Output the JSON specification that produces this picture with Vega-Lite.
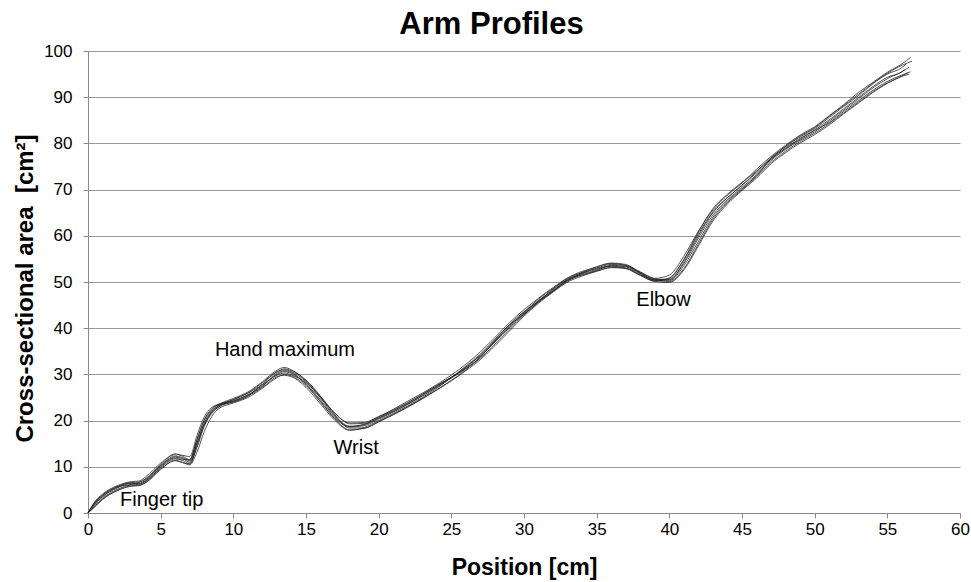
{
"$schema": "https://vega.github.io/schema/vega-lite/v6.json",
"width": 872, "height": 462,
"autosize": "none",
"padding": {"left": 88, "top": 51, "right": 11, "bottom": 69},
"background": "white",
"config": {"font": "Liberation Sans", "view": {"stroke": null}},
"title": {"text": "Arm Profiles", "fontSize": 31, "fontWeight": "bold", "font": "Liberation Sans", "color": "#000", "frame": "bounds", "anchor": "middle", "offset": 1},
"layer": [
{
"data": {"values": [
{"c":"A","x":0,"y":0},{"c":"A","x":0.5,"y":2.0},{"c":"A","x":1,"y":3.5},{"c":"A","x":2,"y":5.4},{"c":"A","x":3,"y":6.4},{"c":"A","x":3.5,"y":6.4},{"c":"A","x":4,"y":7.2},{"c":"A","x":5,"y":10.2},{"c":"A","x":6,"y":12.1},{"c":"A","x":6.5,"y":11.8},{"c":"A","x":7,"y":11.0},{"c":"A","x":7.5,"y":15.0},{"c":"A","x":8,"y":19.5},{"c":"A","x":8.5,"y":22.0},{"c":"A","x":9,"y":23.2},{"c":"A","x":10,"y":24.3},{"c":"A","x":11,"y":25.6},{"c":"A","x":12,"y":27.6},{"c":"A","x":13,"y":30.0},{"c":"A","x":13.5,"y":30.6},{"c":"A","x":14,"y":30.2},{"c":"A","x":15,"y":28.0},{"c":"A","x":16,"y":24.5},{"c":"A","x":17,"y":20.8},{"c":"A","x":18,"y":18.6},{"c":"A","x":19,"y":18.9},{"c":"A","x":20,"y":20.3},{"c":"A","x":22,"y":23.5},{"c":"A","x":24,"y":27.2},{"c":"A","x":26,"y":31.5},{"c":"A","x":27,"y":34.0},{"c":"A","x":28,"y":37.0},{"c":"A","x":29,"y":40.3},{"c":"A","x":30,"y":43.3},{"c":"A","x":31,"y":46.0},{"c":"A","x":32,"y":48.3},{"c":"A","x":33,"y":50.5},{"c":"A","x":34,"y":51.8},{"c":"A","x":35,"y":52.7},{"c":"A","x":36,"y":53.5},{"c":"A","x":37,"y":53.3},{"c":"A","x":38,"y":51.8},{"c":"A","x":39,"y":50.5},{"c":"A","x":40,"y":50.5},{"c":"A","x":41,"y":54.0},{"c":"A","x":42,"y":59.5},{"c":"A","x":43,"y":64.5},{"c":"A","x":44,"y":67.8},{"c":"A","x":45,"y":70.5},{"c":"A","x":46,"y":73.2},{"c":"A","x":47,"y":76.3},{"c":"A","x":48,"y":78.7},{"c":"A","x":49,"y":80.7},{"c":"A","x":50,"y":82.5},{"c":"A","x":51,"y":84.8},{"c":"A","x":52,"y":87.2},{"c":"A","x":53,"y":89.6},{"c":"A","x":54,"y":92.0},{"c":"A","x":55,"y":94.0},{"c":"A","x":56,"y":95.5},{"c":"A","x":56.5,"y":96.5},
{"c":"B","x":0,"y":0},{"c":"B","x":0.5,"y":2.6},{"c":"B","x":1,"y":4.1},{"c":"B","x":2,"y":5.9},{"c":"B","x":3,"y":6.8},{"c":"B","x":3.5,"y":6.9},{"c":"B","x":4,"y":7.9},{"c":"B","x":5,"y":10.8},{"c":"B","x":6,"y":12.6},{"c":"B","x":6.5,"y":12.5},{"c":"B","x":7,"y":12.2},{"c":"B","x":7.5,"y":16.8},{"c":"B","x":8,"y":20.8},{"c":"B","x":8.5,"y":22.8},{"c":"B","x":9,"y":23.6},{"c":"B","x":10,"y":24.8},{"c":"B","x":11,"y":26.2},{"c":"B","x":12,"y":28.4},{"c":"B","x":13,"y":30.9},{"c":"B","x":13.5,"y":31.5},{"c":"B","x":14,"y":31.0},{"c":"B","x":15,"y":28.6},{"c":"B","x":16,"y":25.2},{"c":"B","x":17,"y":21.6},{"c":"B","x":18,"y":19.3},{"c":"B","x":19,"y":19.4},{"c":"B","x":20,"y":20.8},{"c":"B","x":22,"y":24.2},{"c":"B","x":24,"y":27.8},{"c":"B","x":26,"y":32.2},{"c":"B","x":27,"y":34.9},{"c":"B","x":28,"y":38.0},{"c":"B","x":29,"y":41.2},{"c":"B","x":30,"y":44.0},{"c":"B","x":31,"y":46.5},{"c":"B","x":32,"y":48.8},{"c":"B","x":33,"y":50.9},{"c":"B","x":34,"y":52.3},{"c":"B","x":35,"y":53.2},{"c":"B","x":36,"y":54.0},{"c":"B","x":37,"y":53.6},{"c":"B","x":38,"y":52.1},{"c":"B","x":39,"y":50.8},{"c":"B","x":40,"y":51.5},{"c":"B","x":41,"y":55.6},{"c":"B","x":42,"y":61.0},{"c":"B","x":43,"y":65.6},{"c":"B","x":44,"y":68.8},{"c":"B","x":45,"y":71.4},{"c":"B","x":46,"y":74.4},{"c":"B","x":47,"y":77.2},{"c":"B","x":48,"y":79.6},{"c":"B","x":49,"y":81.8},{"c":"B","x":50,"y":83.6},{"c":"B","x":51,"y":86.0},{"c":"B","x":52,"y":88.4},{"c":"B","x":53,"y":91.0},{"c":"B","x":54,"y":93.2},{"c":"B","x":55,"y":95.4},{"c":"B","x":56,"y":97.2},{"c":"B","x":56.6,"y":98.6},
{"c":"C","x":0,"y":0},{"c":"C","x":0.5,"y":1.4},{"c":"C","x":1,"y":2.9},{"c":"C","x":2,"y":4.9},{"c":"C","x":3,"y":5.9},{"c":"C","x":3.5,"y":6.0},{"c":"C","x":4,"y":6.6},{"c":"C","x":5,"y":9.4},{"c":"C","x":6,"y":11.4},{"c":"C","x":6.5,"y":11.0},{"c":"C","x":7,"y":10.4},{"c":"C","x":7.5,"y":13.2},{"c":"C","x":8,"y":17.6},{"c":"C","x":8.5,"y":20.8},{"c":"C","x":9,"y":22.6},{"c":"C","x":10,"y":23.8},{"c":"C","x":11,"y":25.0},{"c":"C","x":12,"y":27.0},{"c":"C","x":13,"y":29.3},{"c":"C","x":13.5,"y":30.0},{"c":"C","x":14,"y":29.7},{"c":"C","x":15,"y":27.6},{"c":"C","x":16,"y":24.0},{"c":"C","x":17,"y":20.3},{"c":"C","x":18,"y":18.0},{"c":"C","x":19,"y":18.3},{"c":"C","x":20,"y":19.7},{"c":"C","x":22,"y":22.9},{"c":"C","x":24,"y":26.6},{"c":"C","x":26,"y":30.8},{"c":"C","x":27,"y":33.2},{"c":"C","x":28,"y":36.2},{"c":"C","x":29,"y":39.4},{"c":"C","x":30,"y":42.6},{"c":"C","x":31,"y":45.4},{"c":"C","x":32,"y":47.8},{"c":"C","x":33,"y":50.0},{"c":"C","x":34,"y":51.3},{"c":"C","x":35,"y":52.3},{"c":"C","x":36,"y":53.1},{"c":"C","x":37,"y":53.0},{"c":"C","x":38,"y":51.5},{"c":"C","x":39,"y":50.1},{"c":"C","x":40,"y":49.9},{"c":"C","x":41,"y":52.6},{"c":"C","x":42,"y":57.8},{"c":"C","x":43,"y":63.2},{"c":"C","x":44,"y":66.9},{"c":"C","x":45,"y":69.8},{"c":"C","x":46,"y":72.5},{"c":"C","x":47,"y":75.6},{"c":"C","x":48,"y":78.0},{"c":"C","x":49,"y":80.1},{"c":"C","x":50,"y":81.9},{"c":"C","x":51,"y":84.0},{"c":"C","x":52,"y":86.4},{"c":"C","x":53,"y":88.7},{"c":"C","x":54,"y":91.0},{"c":"C","x":55,"y":93.0},{"c":"C","x":56,"y":94.6},{"c":"C","x":56.4,"y":95.3},
{"c":"D","x":0,"y":0},{"c":"D","x":0.5,"y":2.3},{"c":"D","x":1,"y":3.8},{"c":"D","x":2,"y":5.6},{"c":"D","x":3,"y":6.2},{"c":"D","x":3.5,"y":6.6},{"c":"D","x":4,"y":7.5},{"c":"D","x":5,"y":10.5},{"c":"D","x":6,"y":12.8},{"c":"D","x":6.5,"y":12.3},{"c":"D","x":7,"y":11.5},{"c":"D","x":7.5,"y":15.8},{"c":"D","x":8,"y":20.2},{"c":"D","x":8.5,"y":22.5},{"c":"D","x":9,"y":23.4},{"c":"D","x":10,"y":24.0},{"c":"D","x":11,"y":25.3},{"c":"D","x":12,"y":27.9},{"c":"D","x":13,"y":30.5},{"c":"D","x":13.5,"y":31.0},{"c":"D","x":14,"y":30.6},{"c":"D","x":15,"y":28.4},{"c":"D","x":16,"y":24.9},{"c":"D","x":17,"y":21.0},{"c":"D","x":18,"y":18.8},{"c":"D","x":19,"y":19.2},{"c":"D","x":20,"y":20.6},{"c":"D","x":22,"y":23.8},{"c":"D","x":24,"y":27.5},{"c":"D","x":26,"y":31.2},{"c":"D","x":27,"y":33.7},{"c":"D","x":28,"y":37.4},{"c":"D","x":29,"y":40.8},{"c":"D","x":30,"y":43.6},{"c":"D","x":31,"y":45.8},{"c":"D","x":32,"y":48.0},{"c":"D","x":33,"y":50.2},{"c":"D","x":34,"y":51.9},{"c":"D","x":35,"y":53.0},{"c":"D","x":36,"y":53.8},{"c":"D","x":37,"y":53.6},{"c":"D","x":38,"y":52.2},{"c":"D","x":39,"y":50.7},{"c":"D","x":40,"y":50.3},{"c":"D","x":41,"y":53.5},{"c":"D","x":42,"y":58.8},{"c":"D","x":43,"y":64.0},{"c":"D","x":44,"y":67.5},{"c":"D","x":45,"y":70.2},{"c":"D","x":46,"y":73.0},{"c":"D","x":47,"y":76.6},{"c":"D","x":48,"y":78.9},{"c":"D","x":49,"y":80.9},{"c":"D","x":50,"y":82.8},{"c":"D","x":51,"y":84.5},{"c":"D","x":52,"y":86.9},{"c":"D","x":53,"y":89.2},{"c":"D","x":54,"y":91.5},{"c":"D","x":55,"y":93.4},{"c":"D","x":56,"y":94.8},{"c":"D","x":56.6,"y":95.5},
{"c":"E","x":0,"y":0},{"c":"E","x":0.5,"y":1.7},{"c":"E","x":1,"y":3.2},{"c":"E","x":2,"y":5.1},{"c":"E","x":3,"y":6.1},{"c":"E","x":3.5,"y":6.2},{"c":"E","x":4,"y":6.9},{"c":"E","x":5,"y":9.8},{"c":"E","x":6,"y":11.7},{"c":"E","x":6.5,"y":11.4},{"c":"E","x":7,"y":10.7},{"c":"E","x":7.5,"y":14.2},{"c":"E","x":8,"y":18.8},{"c":"E","x":8.5,"y":21.5},{"c":"E","x":9,"y":22.9},{"c":"E","x":10,"y":24.1},{"c":"E","x":11,"y":25.3},{"c":"E","x":12,"y":27.2},{"c":"E","x":13,"y":29.5},{"c":"E","x":13.5,"y":29.8},{"c":"E","x":14,"y":29.5},{"c":"E","x":15,"y":27.2},{"c":"E","x":16,"y":23.6},{"c":"E","x":17,"y":20.0},{"c":"E","x":18,"y":17.9},{"c":"E","x":19,"y":18.5},{"c":"E","x":20,"y":20.0},{"c":"E","x":22,"y":23.2},{"c":"E","x":24,"y":27.0},{"c":"E","x":26,"y":31.8},{"c":"E","x":27,"y":34.4},{"c":"E","x":28,"y":37.6},{"c":"E","x":29,"y":40.7},{"c":"E","x":30,"y":43.0},{"c":"E","x":31,"y":45.6},{"c":"E","x":32,"y":48.0},{"c":"E","x":33,"y":50.3},{"c":"E","x":34,"y":51.5},{"c":"E","x":35,"y":52.4},{"c":"E","x":36,"y":53.2},{"c":"E","x":37,"y":52.9},{"c":"E","x":38,"y":51.4},{"c":"E","x":39,"y":50.3},{"c":"E","x":40,"y":50.8},{"c":"E","x":41,"y":54.8},{"c":"E","x":42,"y":60.4},{"c":"E","x":43,"y":65.2},{"c":"E","x":44,"y":68.3},{"c":"E","x":45,"y":70.9},{"c":"E","x":46,"y":73.9},{"c":"E","x":47,"y":76.9},{"c":"E","x":48,"y":79.3},{"c":"E","x":49,"y":81.4},{"c":"E","x":50,"y":83.2},{"c":"E","x":51,"y":85.6},{"c":"E","x":52,"y":88.0},{"c":"E","x":53,"y":90.3},{"c":"E","x":54,"y":92.9},{"c":"E","x":55,"y":95.0},{"c":"E","x":56,"y":96.4},{"c":"E","x":56.3,"y":97.2},
{"c":"F","x":0,"y":0},{"c":"F","x":0.5,"y":2.2},{"c":"F","x":1,"y":3.6},{"c":"F","x":2,"y":5.6},{"c":"F","x":3,"y":6.6},{"c":"F","x":3.5,"y":6.7},{"c":"F","x":4,"y":7.4},{"c":"F","x":5,"y":10.3},{"c":"F","x":6,"y":12.3},{"c":"F","x":6.5,"y":12.0},{"c":"F","x":7,"y":11.3},{"c":"F","x":7.5,"y":15.2},{"c":"F","x":8,"y":19.2},{"c":"F","x":8.5,"y":21.7},{"c":"F","x":9,"y":23.0},{"c":"F","x":10,"y":24.6},{"c":"F","x":11,"y":25.9},{"c":"F","x":12,"y":27.8},{"c":"F","x":13,"y":29.8},{"c":"F","x":13.5,"y":30.3},{"c":"F","x":14,"y":29.9},{"c":"F","x":15,"y":28.2},{"c":"F","x":16,"y":25.0},{"c":"F","x":17,"y":21.5},{"c":"F","x":18,"y":19.5},{"c":"F","x":19,"y":19.6},{"c":"F","x":20,"y":20.9},{"c":"F","x":22,"y":23.9},{"c":"F","x":24,"y":27.6},{"c":"F","x":26,"y":31.3},{"c":"F","x":27,"y":33.5},{"c":"F","x":28,"y":36.6},{"c":"F","x":29,"y":39.8},{"c":"F","x":30,"y":42.9},{"c":"F","x":31,"y":45.7},{"c":"F","x":32,"y":48.5},{"c":"F","x":33,"y":50.8},{"c":"F","x":34,"y":52.0},{"c":"F","x":35,"y":52.9},{"c":"F","x":36,"y":53.4},{"c":"F","x":37,"y":53.0},{"c":"F","x":38,"y":51.6},{"c":"F","x":39,"y":50.4},{"c":"F","x":40,"y":50.1},{"c":"F","x":41,"y":52.9},{"c":"F","x":42,"y":58.2},{"c":"F","x":43,"y":63.6},{"c":"F","x":44,"y":67.2},{"c":"F","x":45,"y":70.0},{"c":"F","x":46,"y":72.8},{"c":"F","x":47,"y":75.9},{"c":"F","x":48,"y":78.3},{"c":"F","x":49,"y":80.4},{"c":"F","x":50,"y":82.2},{"c":"F","x":51,"y":84.3},{"c":"F","x":52,"y":86.6},{"c":"F","x":53,"y":88.9},{"c":"F","x":54,"y":91.2},{"c":"F","x":55,"y":93.1},{"c":"F","x":56,"y":94.5},{"c":"F","x":56.5,"y":95.0},
{"c":"G","x":0,"y":0},{"c":"G","x":0.5,"y":1.6},{"c":"G","x":1,"y":3.0},{"c":"G","x":2,"y":4.8},{"c":"G","x":3,"y":5.8},{"c":"G","x":3.5,"y":5.9},{"c":"G","x":4,"y":6.7},{"c":"G","x":5,"y":9.6},{"c":"G","x":6,"y":11.3},{"c":"G","x":6.5,"y":10.9},{"c":"G","x":7,"y":10.6},{"c":"G","x":7.5,"y":14.6},{"c":"G","x":8,"y":19.0},{"c":"G","x":8.5,"y":21.8},{"c":"G","x":9,"y":23.3},{"c":"G","x":10,"y":24.5},{"c":"G","x":11,"y":26.0},{"c":"G","x":12,"y":28.2},{"c":"G","x":13,"y":30.6},{"c":"G","x":13.5,"y":31.2},{"c":"G","x":14,"y":30.8},{"c":"G","x":15,"y":28.8},{"c":"G","x":16,"y":25.3},{"c":"G","x":17,"y":21.2},{"c":"G","x":18,"y":18.4},{"c":"G","x":19,"y":18.4},{"c":"G","x":20,"y":19.8},{"c":"G","x":22,"y":23.0},{"c":"G","x":24,"y":26.7},{"c":"G","x":26,"y":31.0},{"c":"G","x":27,"y":33.8},{"c":"G","x":28,"y":37.2},{"c":"G","x":29,"y":40.5},{"c":"G","x":30,"y":43.5},{"c":"G","x":31,"y":46.3},{"c":"G","x":32,"y":48.6},{"c":"G","x":33,"y":50.6},{"c":"G","x":34,"y":52.1},{"c":"G","x":35,"y":53.3},{"c":"G","x":36,"y":54.1},{"c":"G","x":37,"y":53.8},{"c":"G","x":38,"y":52.0},{"c":"G","x":39,"y":50.6},{"c":"G","x":40,"y":50.6},{"c":"G","x":41,"y":54.3},{"c":"G","x":42,"y":60.0},{"c":"G","x":43,"y":65.0},{"c":"G","x":44,"y":68.2},{"c":"G","x":45,"y":71.0},{"c":"G","x":46,"y":73.6},{"c":"G","x":47,"y":76.6},{"c":"G","x":48,"y":79.0},{"c":"G","x":49,"y":81.1},{"c":"G","x":50,"y":82.9},{"c":"G","x":51,"y":85.1},{"c":"G","x":52,"y":87.5},{"c":"G","x":53,"y":89.9},{"c":"G","x":54,"y":92.3},{"c":"G","x":55,"y":94.3},{"c":"G","x":56,"y":95.5},{"c":"G","x":56.2,"y":96.0},
{"c":"H","x":0,"y":0},{"c":"H","x":0.5,"y":2.4},{"c":"H","x":1,"y":3.9},{"c":"H","x":2,"y":5.7},{"c":"H","x":3,"y":6.5},{"c":"H","x":3.5,"y":6.3},{"c":"H","x":4,"y":7.0},{"c":"H","x":5,"y":10.0},{"c":"H","x":6,"y":11.9},{"c":"H","x":6.5,"y":11.6},{"c":"H","x":7,"y":11.6},{"c":"H","x":7.5,"y":16.0},{"c":"H","x":8,"y":20.0},{"c":"H","x":8.5,"y":22.3},{"c":"H","x":9,"y":23.5},{"c":"H","x":10,"y":24.2},{"c":"H","x":11,"y":25.5},{"c":"H","x":12,"y":27.4},{"c":"H","x":13,"y":30.2},{"c":"H","x":13.5,"y":30.8},{"c":"H","x":14,"y":30.4},{"c":"H","x":15,"y":27.8},{"c":"H","x":16,"y":24.2},{"c":"H","x":17,"y":20.5},{"c":"H","x":18,"y":18.7},{"c":"H","x":19,"y":19.1},{"c":"H","x":20,"y":20.5},{"c":"H","x":22,"y":23.6},{"c":"H","x":24,"y":27.4},{"c":"H","x":26,"y":31.6},{"c":"H","x":27,"y":34.2},{"c":"H","x":28,"y":37.3},{"c":"H","x":29,"y":40.1},{"c":"H","x":30,"y":43.1},{"c":"H","x":31,"y":45.9},{"c":"H","x":32,"y":48.1},{"c":"H","x":33,"y":50.4},{"c":"H","x":34,"y":51.6},{"c":"H","x":35,"y":52.5},{"c":"H","x":36,"y":53.6},{"c":"H","x":37,"y":53.4},{"c":"H","x":38,"y":51.9},{"c":"H","x":39,"y":50.2},{"c":"H","x":40,"y":50.9},{"c":"H","x":41,"y":54.9},{"c":"H","x":42,"y":60.8},{"c":"H","x":43,"y":65.9},{"c":"H","x":44,"y":69.0},{"c":"H","x":45,"y":71.6},{"c":"H","x":46,"y":74.0},{"c":"H","x":47,"y":76.8},{"c":"H","x":48,"y":79.4},{"c":"H","x":49,"y":81.6},{"c":"H","x":50,"y":83.4},{"c":"H","x":51,"y":85.9},{"c":"H","x":52,"y":88.2},{"c":"H","x":53,"y":90.6},{"c":"H","x":54,"y":93.0},{"c":"H","x":55,"y":95.2},{"c":"H","x":56,"y":96.9},{"c":"H","x":56.7,"y":97.8}
]},
"mark": {"type": "line", "interpolate": "monotone", "strokeWidth": 0.9, "color": "#222", "opacity": 0.85},
"encoding": {
"x": {"field": "x", "type": "quantitative", "scale": {"domain": [0, 60], "nice": false},
"axis": {"title": "Position [cm]", "values": [0,5,10,15,20,25,30,35,40,45,50,55,60], "grid": false, "domainColor": "#888", "tickColor": "#888", "tickSize": 5, "labelFontSize": 17, "labelColor": "#000", "labelPadding": 3, "titleFontSize": 23, "titleFontWeight": "bold", "titleColor": "#000", "titlePadding": 19, "labelFlush": false}},
"y": {"field": "y", "type": "quantitative", "scale": {"domain": [0, 100], "nice": false},
"axis": {"title": "Cross-sectional area\u00a0\u00a0[cm²]", "values": [0,10,20,30,40,50,60,70,80,90,100], "grid": true, "gridColor": "#999", "gridWidth": 1, "domainColor": "#888", "tickColor": "#888", "tickSize": 5, "labelFontSize": 17, "labelColor": "#000", "labelPadding": 11, "titleFontSize": 24, "titleFontWeight": "bold", "titleColor": "#000", "titlePadding": 6, "titleY": 237}},
"detail": {"field": "c", "type": "nominal"}
}
},
{
"data": {"values": [
{"label": "Finger tip", "x": 5.07, "y": 1.5},
{"label": "Hand maximum", "x": 13.55, "y": 33.9},
{"label": "Wrist", "x": 18.45, "y": 12.7},
{"label": "Elbow", "x": 39.6, "y": 44.9}
]},
"mark": {"type": "text", "fontSize": 20, "color": "#000", "align": "center", "baseline": "alphabetic"},
"encoding": {
"x": {"field": "x", "type": "quantitative"},
"y": {"field": "y", "type": "quantitative"},
"text": {"field": "label", "type": "nominal"}
}
}
]
}
